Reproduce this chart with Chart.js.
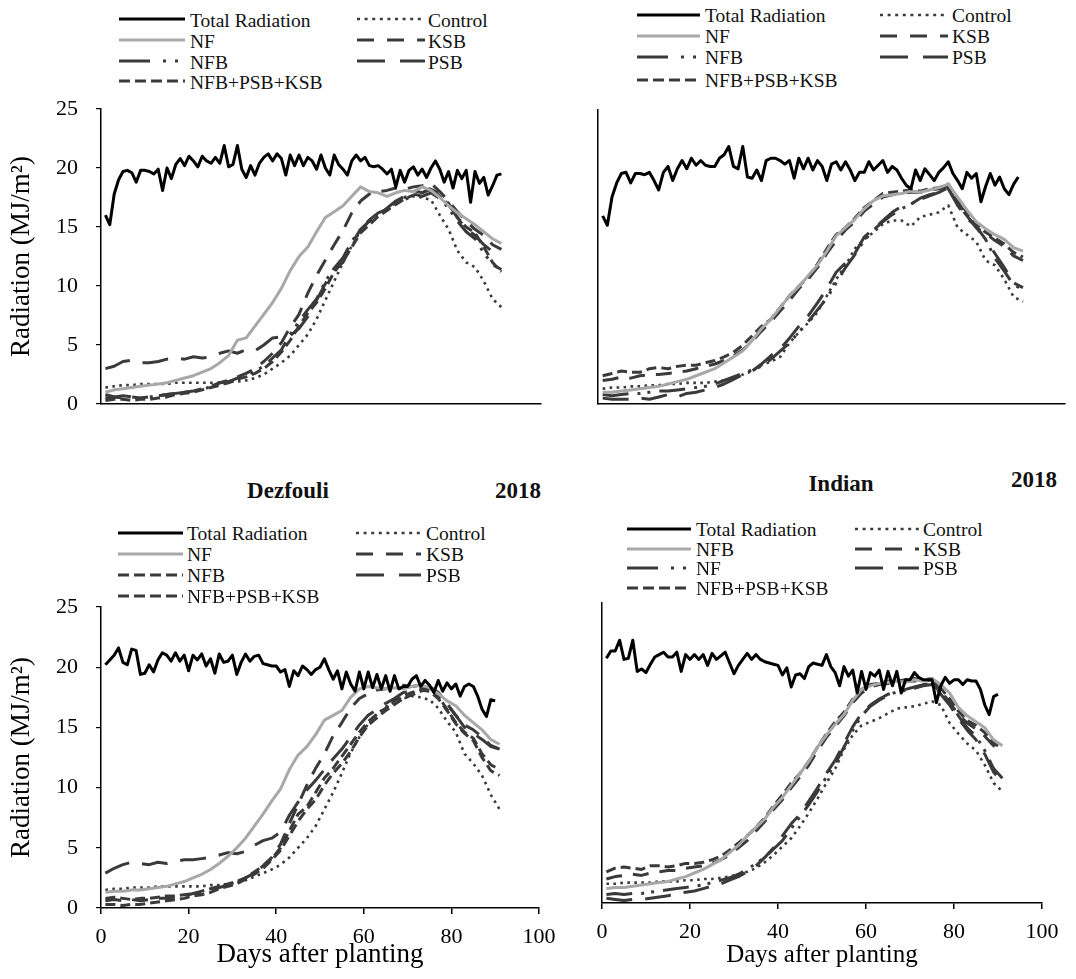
<!DOCTYPE html>
<html lang="en">
<head>
<meta charset="utf-8"/>
<title>Radiation - days after planting</title>
<script src="https://cdn.jsdelivr.net/npm/chart.js"></script>
<style>
body {
  margin: 0;
  background: #fff;
  width: 1076px;
  height: 979px;
  position: relative;
  overflow: hidden;
  font-family: 'Liberation Serif', 'Times New Roman', serif;
}
canvas { position: absolute; }
.lg {
  position: absolute;
  font-size: 19.5px;
  line-height: 20px;
  color: #111;
  white-space: nowrap;
}
.ttl {
  position: absolute;
  font-weight: bold;
  font-size: 23px;
  color: #111;
  transform: translate(-50%, -50%);
  white-space: nowrap;
}
svg.sample { position: absolute; overflow: visible; }
</style>
</head>
<body>
<div class="ttl" style="left:288px;top:491px">Dezfouli</div>
<div class="ttl" style="left:518px;top:491px">2018</div>
<div class="ttl" style="left:841px;top:484px">Indian</div>
<div class="ttl" style="left:1034px;top:480px">2018</div>
<script>
const serif = "'Liberation Serif', 'Times New Roman', serif";

// treatment curves are read every second day, total radiation every day
const treatDays = [1,3,5,7,9,11,13,15,17,19,21,23,25,27,29,31,33,35,37,39,41,43,45,47,49,51,53,55,57,59,61,63,65,67,69,71,73,75,77,79,81,83,85,87,89,91];

// top left
const tlTotal = [16.0,15.2,17.8,19.0,19.7,19.8,19.6,18.8,19.8,19.8,
  19.7,19.5,19.9,18.1,20.0,19.1,20.3,20.8,20.2,21.0,
  20.6,20.1,21.0,20.6,20.4,20.9,20.4,21.9,20.1,20.3,
  21.9,19.9,19.2,20.2,19.4,20.4,20.9,21.2,20.6,21.2,
  20.8,19.4,21.1,20.2,21.1,20.2,20.9,20.6,19.9,21.1,
  20.0,19.4,21.1,20.3,19.9,19.4,20.6,21.1,20.6,20.9,
  20.2,20.1,20.2,19.9,19.5,19.9,18.4,19.8,18.8,19.8,
  20.1,19.4,19.9,19.2,20.0,20.6,19.9,18.8,19.7,18.3,
  19.8,19.1,19.8,17.1,19.7,18.7,19.2,17.7,18.5,19.4,19.5];
const tlNF = [1.0,1.2,1.3,1.4,1.5,1.6,1.7,1.8,2.0,2.2,2.4,2.7,3.0,3.5,4.1,5.4,5.6,6.6,7.6,8.6,
  9.8,11.3,12.5,13.3,14.6,15.8,16.3,16.8,17.6,18.4,18.0,17.9,17.6,17.9,18.1,18.0,18.4,18.1,17.5,16.8,
  16.2,15.7,15.2,14.6,14.0,13.6];
const tlKSB = [0.5,0.6,0.5,0.6,0.5,0.6,0.7,0.8,0.9,1.0,1.1,1.3,1.5,1.8,2.0,2.3,2.6,3.0,3.6,4.3,
  5.2,6.5,7.6,9.4,10.9,12.2,13.5,14.7,16.2,17.2,17.8,18.0,18.1,18.3,18.2,18.4,18.5,18.7,18.0,17.2,
  16.3,15.5,14.8,14.3,13.5,13.1];
const tlPSB = [3.0,3.2,3.6,3.7,3.5,3.5,3.6,3.8,3.9,3.8,4.0,3.9,4.0,4.3,4.5,4.3,4.6,4.5,5.0,5.6,
  5.7,5.8,6.4,7.4,8.8,10.2,11.5,12.0,13.6,14.8,15.5,16.0,16.6,17.2,17.6,18.1,17.9,18.2,17.8,17.0,
  15.8,14.8,14.3,13.5,12.9,13.0];
const tlNFB = [0.8,0.6,0.7,0.6,0.5,0.6,0.7,0.8,0.9,1.0,1.1,1.2,1.5,1.8,1.9,2.2,2.4,2.8,3.2,3.9,
  4.6,5.9,7.0,8.0,8.9,10.4,11.5,12.4,13.8,14.8,15.6,16.2,16.5,17.0,17.5,17.8,17.6,17.9,17.4,16.6,
  15.5,14.6,14.0,12.8,11.8,11.4];
const tlAll = [0.3,0.4,0.4,0.3,0.4,0.4,0.5,0.6,0.8,0.9,1.0,1.2,1.4,1.6,1.8,2.1,2.3,2.6,3.0,3.6,
  4.4,5.4,6.6,7.7,8.6,9.8,11.2,12.1,13.3,14.5,15.2,15.9,16.4,16.9,17.4,17.7,17.9,18.3,17.6,16.9,
  15.8,15.0,14.5,13.3,12.0,11.2];
const tlControl = [1.4,1.5,1.6,1.6,1.7,1.7,1.7,1.7,1.8,1.8,1.8,1.8,1.8,1.8,1.9,1.9,2.0,2.2,2.5,3.0,
  3.5,4.1,5.0,5.9,7.2,8.8,10.4,12.0,13.4,14.7,15.5,16.1,16.6,17.0,17.3,17.6,17.5,17.3,16.0,14.8,
  13.0,12.0,11.6,10.4,8.9,8.2];

// top right
const trTotal = [16.0,15.2,17.6,18.8,19.6,19.7,18.8,19.6,19.6,19.5,
  19.7,19.0,18.2,19.7,20.2,19.0,20.0,20.7,20.0,20.9,
  20.3,20.7,20.3,20.2,20.2,20.9,21.2,21.9,20.2,20.0,
  21.9,19.3,19.2,19.9,19.0,20.7,20.9,20.9,20.7,20.4,
  20.7,19.2,20.9,20.0,20.9,19.9,20.7,20.2,19.0,20.4,
  20.6,19.9,20.6,19.9,19.0,19.7,19.7,20.6,19.9,20.3,
  20.7,19.7,20.2,19.9,19.2,18.6,18.3,19.9,19.0,20.0,
  19.5,19.0,19.7,20.1,20.6,19.6,19.0,18.3,19.7,19.2,
  19.6,17.2,18.5,19.6,18.6,19.3,18.3,17.8,18.7,19.3];
const trNF = [1.0,1.0,1.1,1.2,1.3,1.4,1.5,1.7,1.9,2.1,2.4,2.7,3.0,3.5,4.0,4.5,5.4,6.4,7.2,8.2,
  9.2,10.0,10.9,11.8,13.0,14.3,15.0,15.7,16.6,17.3,17.7,17.8,17.9,18.1,18.0,18.2,18.4,18.7,17.6,16.5,
  15.5,14.9,14.4,14.0,13.3,13.0];
const trAll = [2.4,2.6,2.8,2.7,2.7,3.0,3.1,3.0,3.2,3.3,3.3,3.5,3.7,4.0,4.4,5.0,5.8,6.6,7.2,8.2,
  9.2,10.0,10.8,11.9,13.2,14.4,15.0,15.8,16.7,17.3,17.9,18.0,18.1,18.2,18.1,18.3,18.4,18.7,17.4,16.3,
  15.3,14.6,14.1,13.6,12.9,12.5];
const trKSB = [2.0,2.1,2.3,2.2,2.4,2.5,2.5,2.6,2.7,2.8,3.0,3.2,3.4,3.7,4.1,4.6,5.3,6.2,7.0,7.9,
  8.8,9.8,10.6,11.6,12.8,13.9,14.8,15.5,16.4,17.0,17.6,17.8,17.9,18.0,18.0,18.2,18.3,18.5,17.2,16.0,
  15.0,14.5,13.9,13.4,12.6,12.2];
const trPSB = [0.5,0.4,0.4,0.4,0.5,0.4,0.6,0.8,0.6,0.9,1.0,1.2,1.4,1.7,2.1,2.5,2.8,3.4,4.1,4.7,
  5.6,6.6,7.5,8.6,9.8,11.2,12.0,12.8,14.2,14.9,15.6,16.3,16.8,17.0,17.5,17.8,18.0,18.3,16.9,15.8,
  15.1,14.0,12.8,11.6,10.3,9.9];
const trNFB = [0.8,0.7,0.8,0.9,0.9,1.0,1.1,1.1,1.2,1.3,1.4,1.5,1.7,2.0,2.3,2.6,2.9,3.2,3.8,4.5,
  5.2,6.1,7.0,8.0,9.0,10.3,11.6,12.7,13.9,14.8,15.5,16.1,16.6,17.0,17.4,17.7,18.0,18.4,17.0,16.0,
  15.0,14.0,12.4,11.3,10.1,9.8];
const trControl = [1.3,1.4,1.4,1.5,1.5,1.6,1.6,1.7,1.7,1.8,1.8,1.8,1.9,2.0,2.2,2.5,2.8,3.3,3.6,4.0,
  5.2,6.1,6.9,7.8,9.2,10.6,11.8,13.2,14.0,14.6,15.3,15.6,15.6,15.1,15.9,16.1,16.3,16.9,15.0,14.4,
  13.8,12.2,11.8,10.6,9.1,8.7];

// bottom left, Dezfouli 2018
const blTotal = [20.2,20.6,21.0,21.6,20.4,20.2,21.5,21.4,19.4,19.5,
  20.2,19.6,20.6,21.2,21.0,20.5,21.2,20.5,21.0,19.7,
  21.0,20.6,21.1,20.1,20.7,19.5,21.1,20.4,20.5,21.0,
  19.4,20.4,21.1,20.5,20.9,21.0,20.3,20.2,20.1,20.1,
  19.6,19.8,18.4,19.7,19.3,20.1,19.8,19.4,19.8,20.0,
  20.7,19.8,19.0,19.7,18.2,19.6,18.6,18.0,19.6,18.2,
  19.6,18.3,19.4,18.2,19.3,18.0,19.3,18.2,18.4,18.4,
  19.0,19.3,18.4,18.9,18.5,17.9,18.9,18.0,18.7,18.2,
  18.6,17.6,18.4,18.6,18.4,17.6,16.5,15.9,17.3,17.2];
const blNF = [1.3,1.4,1.4,1.5,1.5,1.6,1.7,1.8,2.0,2.2,2.5,2.8,3.2,3.7,4.3,5.0,5.8,6.8,7.8,8.9,
  9.9,11.5,12.7,13.4,14.4,15.6,16.0,16.4,17.5,18.2,18.4,18.3,18.2,18.3,18.2,18.4,18.5,18.3,17.8,17.2,
  16.8,16.0,15.4,14.8,14.0,13.6];
const blPSB = [2.9,3.3,3.6,3.8,3.7,3.6,3.8,3.7,3.9,4.0,4.0,4.1,4.2,4.4,4.6,4.5,4.7,5.2,5.6,5.8,
  6.3,7.7,8.8,9.8,10.6,11.5,12.4,13.2,14.2,15.2,16.0,16.5,17.0,17.4,17.9,18.0,18.2,18.3,17.8,16.9,
  16.0,15.0,14.5,14.0,13.4,13.2];
const blKSB = [0.6,0.7,0.6,0.7,0.6,0.7,0.8,0.8,0.9,1.0,1.2,1.3,1.5,1.7,1.9,2.1,2.5,2.9,3.5,4.2,
  5.3,7.0,8.6,10.2,11.6,12.8,14.3,15.4,16.6,17.4,17.8,18.1,18.2,18.3,18.5,18.4,18.5,18.4,17.9,17.0,
  16.0,15.2,14.8,14.2,13.5,13.2];
const blNFB = [0.3,0.3,0.2,0.3,0.3,0.4,0.5,0.6,0.7,0.8,1.0,1.1,1.3,1.6,1.8,2.0,2.4,2.8,3.3,4.0,
  4.8,6.0,7.2,8.2,9.0,10.2,11.2,12.0,13.0,14.2,15.2,15.8,16.4,16.9,17.4,17.7,18.0,18.3,17.6,16.5,
  15.4,14.6,14.1,12.8,11.9,11.5];
const blAll = [0.8,0.9,0.8,0.7,0.8,0.8,0.9,1.0,1.0,1.1,1.2,1.4,1.6,1.8,2.0,2.2,2.5,3.0,3.5,4.1,
  5.0,6.4,7.8,8.4,9.6,10.8,11.6,12.6,13.6,14.6,15.5,16.1,16.6,17.2,17.6,17.9,18.1,18.0,17.4,16.4,
  15.3,14.5,13.9,12.5,11.4,11.0];
const blControl = [1.5,1.6,1.6,1.7,1.7,1.7,1.8,1.8,1.8,1.8,1.8,1.8,1.9,1.9,2.0,2.1,2.3,2.6,2.9,3.2,
  3.6,4.2,5.0,5.8,6.8,8.2,9.6,11.2,12.9,14.2,15.3,16.1,16.7,17.1,17.4,17.6,17.5,17.3,16.6,15.5,
  14.6,12.8,12.0,11.0,9.4,8.2];

// bottom right, Indian 2018
const brTotal = [20.4,21.0,21.0,21.9,20.3,20.4,21.9,19.3,19.5,19.2,
  19.9,20.5,20.7,20.9,20.5,20.5,20.9,19.3,20.7,20.3,
  20.7,20.3,20.7,19.8,20.8,20.3,20.6,20.9,20.0,19.1,
  19.8,20.3,20.8,20.3,20.7,20.3,20.1,20.0,19.9,19.8,
  19.0,19.6,18.0,19.0,19.1,18.7,19.7,20.0,19.9,19.8,
  20.7,19.7,19.2,18.1,19.7,18.9,19.4,17.5,19.3,17.8,
  19.2,18.9,19.4,17.8,19.3,18.1,19.3,17.5,18.6,18.6,
  19.2,18.8,18.6,18.6,18.6,16.7,18.1,18.8,18.3,18.6,
  18.6,18.2,18.6,18.5,18.5,17.8,16.5,15.7,17.2,17.4];
const brNFB = [1.2,1.3,1.3,1.4,1.5,1.6,1.7,1.8,2.0,2.2,2.5,2.8,3.2,3.6,4.2,4.8,5.6,6.3,7.0,8.0,
  8.8,9.8,10.8,11.8,13.0,14.0,14.9,15.7,16.9,17.8,18.1,18.3,18.4,18.5,18.4,18.6,18.5,18.7,18.2,17.5,
  16.3,15.6,15.1,14.6,13.6,13.1];
const brAll = [2.6,2.9,3.0,2.9,2.8,3.1,3.1,3.0,3.1,3.3,3.3,3.4,3.6,3.9,4.4,5.0,5.6,6.3,7.1,8.1,
  9.0,10.0,10.8,11.8,13.0,14.1,15.1,15.9,17.0,17.8,18.2,18.3,18.5,18.5,18.6,18.7,18.6,18.7,17.9,17.0,
  16.0,15.2,14.8,14.2,13.3,12.9];
const brKSB = [2.0,2.2,2.3,2.4,2.3,2.5,2.6,2.7,2.7,2.9,3.0,3.1,3.3,3.6,4.0,4.6,5.2,6.0,6.8,7.8,
  8.6,9.6,10.5,11.5,12.7,13.8,14.7,15.6,16.7,17.5,18.0,18.2,18.3,18.4,18.5,18.5,18.5,18.6,17.7,16.7,
  15.7,15.0,14.5,13.9,13.1,12.7];
const brNF = [0.7,0.8,0.7,0.8,0.8,0.9,1.0,1.1,1.2,1.3,1.4,1.5,1.7,1.9,2.1,2.4,2.8,3.3,3.8,4.5,
  5.2,6.2,7.2,8.2,9.3,10.5,11.6,13.0,14.4,15.6,16.4,16.9,17.3,17.6,17.7,17.9,18.1,18.2,17.6,16.8,
  15.6,14.6,13.9,12.7,11.2,10.4];
const brPSB = [0.4,0.3,0.2,0.3,0.3,0.4,0.5,0.6,0.8,0.9,1.0,1.2,1.4,1.6,1.9,2.2,2.6,3.1,3.8,4.6,
  5.6,6.6,7.4,8.5,9.6,10.8,11.9,13.3,14.7,15.8,16.5,17.0,17.4,17.6,17.8,18.0,18.2,18.3,17.4,16.5,
  15.4,14.4,13.6,12.4,10.9,10.1];
const brControl = [1.6,1.6,1.7,1.7,1.7,1.7,1.8,1.8,1.8,1.9,1.9,2.0,2.0,2.1,2.2,2.4,2.6,2.9,3.4,4.0,
  4.7,5.4,6.4,7.5,8.7,10.0,11.2,12.8,14.0,14.8,15.1,15.4,15.8,16.2,16.3,16.4,16.6,16.8,16.5,15.0,
  14.1,13.3,12.7,11.5,10.0,9.3];

const lineStyles = {
  total: { color: '#000000', width: 3, dash: [], legendDash: '' },
  grey:  { color: '#a8a8a8', width: 3, dash: [], legendDash: '' },
  ddd:   { color: '#3a3a3a', width: 3, dash: [26, 9, 3, 7, 3, 9], legendDash: '31 13 3 9 3 40' },
  short: { color: '#3a3a3a', width: 3, dash: [10, 5], legendDash: '11 5' },
  dot:   { color: '#3a3a3a', width: 2.6, dash: [2.6, 4.4], legendDash: '3 4.6' },
  dash:  { color: '#3a3a3a', width: 3, dash: [16, 11], legendDash: '17 13' },
  long:  { color: '#3a3a3a', width: 3, dash: [26, 13], legendDash: '28 15' }
};

const panels = [
  { box: [0, 95, 560, 330], yW: 101, padTop: 14, padRight: 19, xH: 21, showY: true, showX: false, xTitle: 27, xTitlePad: 8,
    series: [['Total Radiation', tlTotal, 'total'], ['NF', tlNF, 'grey'], ['NFB', tlNFB, 'ddd'],
      ['NFB+PSB+KSB', tlAll, 'short'], ['Control', tlControl, 'dot'], ['KSB', tlKSB, 'dash'], ['PSB', tlPSB, 'long']],
    legend: { c1: [119, 185, 190], c2: [357, 425, 428], rows: [19, 40, 61, 81], dy: -8,
      col1: ['Total Radiation', 'NF', 'NFB', 'NFB+PSB+KSB'], col2: ['Control', 'KSB', 'PSB'] } },
  { box: [560, 95, 516, 330], yW: 38, padTop: 15, padRight: 11, xH: 21, showY: false, showX: false, xTitle: 25, xTitlePad: 9,
    series: [['Total Radiation', trTotal, 'total'], ['NF', trNF, 'grey'], ['NFB', trNFB, 'ddd'],
      ['NFB+PSB+KSB', trAll, 'short'], ['Control', trControl, 'dot'], ['KSB', trKSB, 'dash'], ['PSB', trPSB, 'long']],
    legend: { c1: [637, 700, 705], c2: [880, 948, 952], rows: [15, 36, 57, 80], dy: -9,
      col1: ['Total Radiation', 'NF', 'NFB', 'NFB+PSB+KSB'], col2: ['Control', 'KSB', 'PSB'] } },
  { box: [0, 590, 560, 389], yW: 101, padTop: 17, padRight: 21, xH: 71, showY: true, showX: true, xTitle: 27, xTitlePad: 8,
    series: [['Total Radiation', blTotal, 'total'], ['NF', blNF, 'grey'], ['NFB', blNFB, 'short'],
      ['NFB+PSB+KSB', blAll, 'short'], ['Control', blControl, 'dot'], ['KSB', blKSB, 'dash'], ['PSB', blPSB, 'long']],
    legend: { c1: [118, 183, 187], c2: [356, 421, 426], rows: [533, 554, 575, 596], dy: -9,
      col1: ['Total Radiation', 'NF', 'NFB', 'NFB+PSB+KSB'], col2: ['Control', 'KSB', 'PSB'] } },
  { box: [560, 590, 516, 389], yW: 42, padTop: 13, padRight: 34, xH: 76, showY: false, showX: true, xTitle: 25, xTitlePad: 9,
    series: [['Total Radiation', brTotal, 'total'], ['NFB', brNFB, 'grey'], ['NF', brNF, 'ddd'],
      ['NFB+PSB+KSB', brAll, 'short'], ['Control', brControl, 'dot'], ['KSB', brKSB, 'dash'], ['PSB', brPSB, 'long']],
    legend: { c1: [627, 691, 696], c2: [855, 919, 923], rows: [529, 549, 568, 588], dy: -9,
      col1: ['Total Radiation', 'NFB', 'NF', 'NFB+PSB+KSB'], col2: ['Control', 'KSB', 'PSB'] } }
];

// fixed axis boxes; drop the label overflow padding so the plot area stays where it is set
function fixBox(s, w, h) {
  if (w !== null) s.width = w;
  if (h !== null) s.height = h;
  s.paddingTop = 0;
  s.paddingBottom = 0;
  s.paddingLeft = 0;
  s.paddingRight = 0;
}

function makePanel(p) {
  const cv = document.createElement('canvas');
  cv.width = p.box[2];
  cv.height = p.box[3];
  cv.style.left = p.box[0] + 'px';
  cv.style.top = p.box[1] + 'px';
  document.body.appendChild(cv);

  const datasets = p.series.map(([label, vals, key]) => {
    const st = lineStyles[key];
    const days = key === 'total' ? vals.map((_, i) => i + 1) : treatDays;
    return {
      label: label,
      data: vals.map((v, i) => ({ x: days[i], y: v })),
      borderColor: st.color,
      borderWidth: st.width,
      borderDash: st.dash,
      borderCapStyle: 'butt',
      borderJoinStyle: 'round',
      pointRadius: 0,
      tension: 0,
      fill: false
    };
  });

  new Chart(cv, {
    type: 'line',
    data: { datasets },
    options: {
      responsive: false,
      animation: false,
      events: [],
      layout: { autoPadding: false, padding: { top: p.padTop, right: p.padRight, left: 0, bottom: 0 } },
      plugins: { legend: { display: false }, tooltip: { enabled: false } },
      scales: {
        x: {
          type: 'linear', min: 0, max: 100,
          afterFit: s => fixBox(s, null, p.xH),
          border: { display: true, color: '#000', width: 1.5 },
          grid: { display: p.showX, drawOnChartArea: false, drawTicks: true, tickLength: 6, color: '#000', lineWidth: 1.5 },
          ticks: { display: p.showX, stepSize: 20, maxRotation: 0, color: '#000', padding: 10, font: { family: serif, size: 22 } },
          title: { display: p.showX, text: 'Days after planting', color: '#000',
            font: { family: serif, size: p.xTitle }, padding: { top: 0, bottom: p.xTitlePad } }
        },
        y: {
          min: 0, max: 25,
          afterFit: s => fixBox(s, p.yW, null),
          border: { display: true, color: '#000', width: 1.5 },
          grid: { display: p.showY, drawOnChartArea: false, drawTicks: true, tickLength: 5, color: '#000', lineWidth: 1.2 },
          ticks: { display: p.showY, stepSize: 5, color: '#000', padding: 18, font: { family: serif, size: 22 } },
          title: { display: p.showY, text: 'Radiation (MJ/m²)', color: '#000',
            font: { family: serif, size: 27 }, padding: { top: 6, bottom: 0 } }
        }
      }
    }
  });
}

function addLegendItem(L, label, col, row, key) {
  const ns = 'http://www.w3.org/2000/svg';
  const c = col === 0 ? L.c1 : L.c2;
  const y = L.rows[row];
  const st = lineStyles[key];
  const w = c[1] - c[0];
  const svg = document.createElementNS(ns, 'svg');
  svg.setAttribute('class', 'sample');
  svg.setAttribute('width', w);
  svg.setAttribute('height', 8);
  svg.style.left = c[0] + 'px';
  svg.style.top = (y - 4) + 'px';
  const ln = document.createElementNS(ns, 'line');
  ln.setAttribute('x1', 0); ln.setAttribute('y1', 4);
  ln.setAttribute('x2', w); ln.setAttribute('y2', 4);
  ln.setAttribute('stroke', st.color);
  ln.setAttribute('stroke-width', st.width);
  if (st.legendDash) ln.setAttribute('stroke-dasharray', st.legendDash);
  svg.appendChild(ln);
  document.body.appendChild(svg);

  const t = document.createElement('div');
  t.className = 'lg';
  t.textContent = label;
  t.style.left = c[2] + 'px';
  t.style.top = (y + L.dy) + 'px';
  document.body.appendChild(t);
}

panels.forEach(p => {
  makePanel(p);
  const styleOf = {};
  p.series.forEach(([label, , key]) => { styleOf[label] = key; });
  p.legend.col1.forEach((label, i) => addLegendItem(p.legend, label, 0, i, styleOf[label]));
  p.legend.col2.forEach((label, i) => addLegendItem(p.legend, label, 1, i, styleOf[label]));
});
</script>
</body>
</html>
